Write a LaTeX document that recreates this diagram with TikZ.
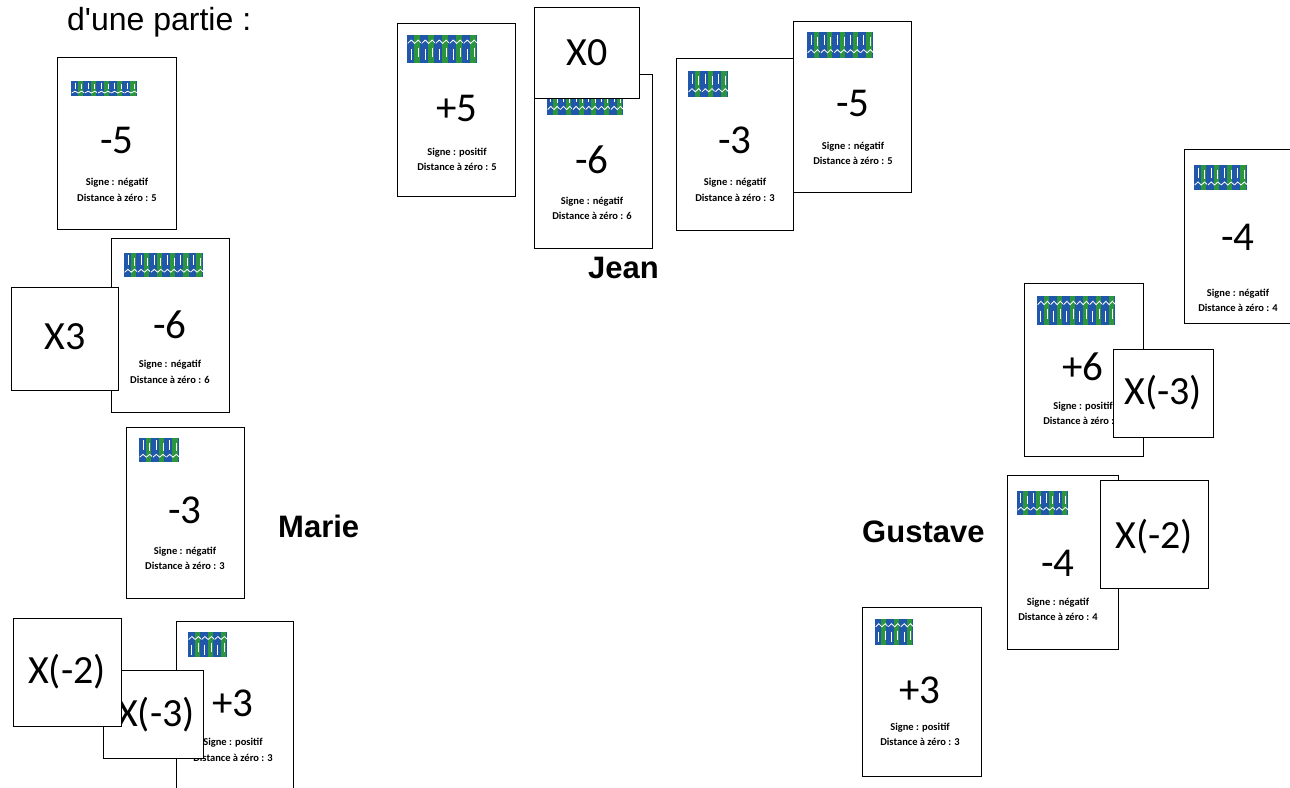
\documentclass[tikz,border=0pt]{standalone}
\usepackage{fontspec}
\setmainfont{Liberation Sans}
\newfontfamily\calfont{Carlito}
\definecolor{iblue}{RGB}{33,87,170}
\definecolor{igreen}{RGB}{44,150,62}
\tikzset{
  card/.style={draw=black, line width=1.2pt, fill=white, inner sep=0pt, anchor=north west, rectangle},
  num/.style={font=\calfont\fontsize{41}{41}\selectfont, inner sep=0pt, anchor=center},
  mul/.style={font=\calfont\fontsize{40}{40}\selectfont, inner sep=0pt, anchor=center},
  info/.style={font=\calfont\bfseries\fontsize{10.5}{11}\selectfont, inner sep=0pt, anchor=center},
  pname/.style={font=\bfseries\fontsize{31}{31}\selectfont, inner sep=0pt, anchor=base west},
  head/.style={font=\fontsize{32}{32}\selectfont, inner sep=0pt, anchor=base west}
}
% strip of icons: #1 x, #2 y, #3 width, #4 height, #5 count, #6 n or p
\newcommand\iconstrip[6]{%
  \pgfmathsetmacro\iw{#3/#5}%
  \foreach \k in {1,...,#5}{%
    \pgfmathsetmacro\xa{#1+(\k-1)*\iw}%
    \fill[iblue] (\xa,#2) rectangle ++(\iw,#4);
    \fill[igreen] (\xa+0.5*\iw,#2) rectangle ++(0.4*\iw,#4);
    \if n#6
      \draw[white, line width=0.9pt] (\xa+0.3*\iw,#2+0.1*#4) -- ++(0,0.4*#4);
      \draw[white, line width=0.9pt] (\xa+0.8*\iw,#2+0.2*#4) -- ++(0,0.35*#4);
      \draw[white, line width=0.8pt] (\xa+0.05*\iw,#2+0.8*#4) -- ++(0.25*\iw,-0.12*#4) -- ++(0.25*\iw,0.12*#4) -- ++(0.25*\iw,-0.12*#4) -- ++(0.2*\iw,0.1*#4);
    \else
      \draw[white, line width=0.8pt] (\xa+0.05*\iw,#2+0.3*#4) -- ++(0.25*\iw,-0.12*#4) -- ++(0.25*\iw,0.12*#4) -- ++(0.25*\iw,-0.12*#4) -- ++(0.2*\iw,0.1*#4);
      \draw[white, line width=0.9pt] (\xa+0.3*\iw,#2+0.5*#4) -- ++(0,0.4*#4);
      \draw[white, line width=0.9pt] (\xa+0.8*\iw,#2+0.45*#4) -- ++(0,0.35*#4);
    \fi
  }%
}
\begin{document}
\begin{tikzpicture}[x=1pt,y=-1pt]
\useasboundingbox (0,0) rectangle (1290,787);
\fill[white] (0,0) rectangle (1290,787);
\clip (0,0) rectangle (1290,787);

\node[head] (hdr) at (67,30) {d\textquotesingle une partie :};

% ---------- Marie ----------
\node[card, minimum width=119pt, minimum height=172pt] (m1) at (57,57) {};
\iconstrip{71}{81}{66}{15}{5}{n}
\node[num] (m1n) at (117,140) {-5};
\node[info] (m1a) at (117,183) {Signe : négatif};
\node[info] (m1b) at (117,198) {Distance à zéro : 5};

\node[card, minimum width=118pt, minimum height=174pt] (m2) at (111,238) {};
\iconstrip{124}{253}{79}{24}{6}{n}
\node[num] (m2n) at (170,325) {-6};
\node[info] (m2a) at (170,365) {Signe : négatif};
\node[info] (m2b) at (170,380) {Distance à zéro : 6};

\node[card, minimum width=107pt, minimum height=103pt] (mx3) at (11,287) {};
\node[mul] (mx3t) at (65,337) {X3};

\node[card, minimum width=118pt, minimum height=171pt] (m3) at (126,427) {};
\iconstrip{139}{438}{40}{24}{3}{n}
\node[num] (m3n) at (185,510) {-3};
\node[info] (m3a) at (185,552) {Signe : négatif};
\node[info] (m3b) at (185,566) {Distance à zéro : 3};

\node[card, minimum width=117pt, minimum height=175pt] (m4) at (176,621) {};
\iconstrip{188}{632}{39}{25}{3}{p}
\node[num] (m4n) at (233,703) {+3};
\node[info] (m4a) at (233,743) {Signe : positif};
\node[info] (m4b) at (233,758) {Distance à zéro : 3};

\node[card, minimum width=100pt, minimum height=88pt] (mxm3) at (103,670) {};
\node[mul] (mxm3t) at (156,715) {X(-3)};

\node[card, minimum width=108pt, minimum height=108pt] (mxm2) at (13,618) {};
\node[mul] (mxm2t) at (67,672) {X(-2)};

\node[pname] (marie) at (278,537) {Marie};

% ---------- Jean ----------
\node[card, minimum width=118pt, minimum height=173pt] (j1) at (397,23) {};
\iconstrip{407}{35}{70}{28}{5}{p}
\node[num] (j1n) at (457,108) {+5};
\node[info] (j1a) at (457,153) {Signe : positif};
\node[info] (j1b) at (457,167) {Distance à zéro : 5};

\node[card, minimum width=118pt, minimum height=174pt] (j2) at (534,74) {};
\iconstrip{547}{88}{76}{27}{6}{n}
\node[num] (j2n) at (592,160) {-6};
\node[info] (j2a) at (592,202) {Signe : négatif};
\node[info] (j2b) at (592,216) {Distance à zéro : 6};

\node[card, minimum width=105pt, minimum height=91pt] (jx0) at (534,7) {};
\node[mul] (jx0t) at (587,53) {X0};

\node[card, minimum width=117pt, minimum height=172pt] (j3) at (676,58) {};
\iconstrip{688}{71}{40}{26}{3}{n}
\node[num] (j3n) at (735,140) {-3};
\node[info] (j3a) at (735,183) {Signe : négatif};
\node[info] (j3b) at (735,198) {Distance à zéro : 3};

\node[card, minimum width=118pt, minimum height=171pt] (j4) at (793,21) {};
\iconstrip{807}{32}{66}{26}{5}{n}
\node[num] (j4n) at (853,103) {-5};
\node[info] (j4a) at (853,147) {Signe : négatif};
\node[info] (j4b) at (853,161) {Distance à zéro : 5};

\node[pname] (jean) at (588,278) {Jean};

% ---------- Gustave ----------
\node[card, minimum width=118pt, minimum height=174pt] (g1) at (1184,149) {};
\iconstrip{1194}{165}{53}{25}{4}{n}
\node[num] (g1n) at (1238,237) {-4};
\node[info] (g1a) at (1238,294) {Signe : négatif};
\node[info] (g1b) at (1238,308) {Distance à zéro : 4};

\node[card, minimum width=119pt, minimum height=173pt] (g2) at (1024,283) {};
\iconstrip{1037}{296}{78}{29}{6}{p}
\node[num] (g2n) at (1083,367) {+6};
\node[info] (g2a) at (1083,407) {Signe : positif};
\node[info] (g2b) at (1083,421) {Distance à zéro : 6};

\node[card, minimum width=100pt, minimum height=88pt] (gxm3) at (1113,349) {};
\node[mul] (gxm3t) at (1163,393) {X(-3)};

\node[card, minimum width=111pt, minimum height=174pt] (g3) at (1007,475) {};
\iconstrip{1017}{491}{51}{24}{4}{n}
\node[num] (g3n) at (1058,563) {-4};
\node[info] (g3a) at (1058,603) {Signe : négatif};
\node[info] (g3b) at (1058,617) {Distance à zéro : 4};

\node[card, minimum width=108pt, minimum height=108pt] (gxm2) at (1100,480) {};
\node[mul] (gxm2t) at (1154,537) {X(-2)};

\node[card, minimum width=119pt, minimum height=169pt] (g4) at (862,607) {};
\iconstrip{875}{619}{38}{26}{3}{p}
\node[num] (g4n) at (920,690) {+3};
\node[info] (g4a) at (920,728) {Signe : positif};
\node[info] (g4b) at (920,742) {Distance à zéro : 3};

\node[pname] (gustave) at (862,542) {Gustave};
\end{tikzpicture}
\end{document}
